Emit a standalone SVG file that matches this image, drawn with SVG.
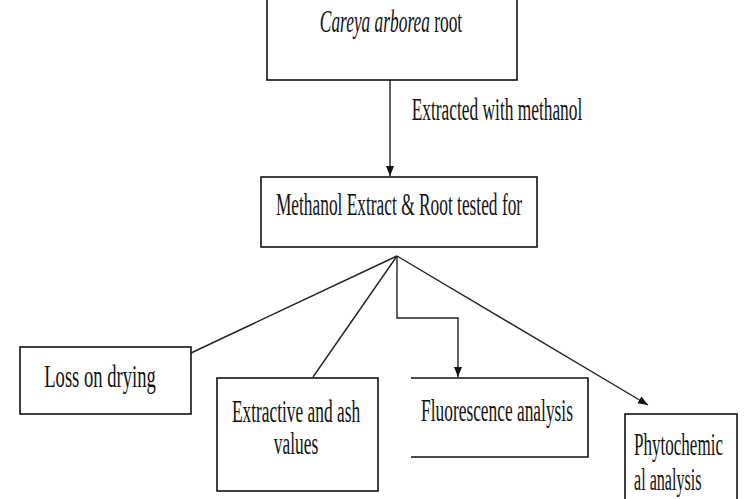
<svg xmlns="http://www.w3.org/2000/svg" width="750" height="499" viewBox="0 0 750 499">
<defs>
<marker id="ah" viewBox="0 0 10 10" refX="10" refY="5" markerWidth="10" markerHeight="10" markerUnits="userSpaceOnUse" orient="auto">
<path d="M0,1 L10,5 L0,9 Z" fill="#111"/>
</marker>
<style>
.box{fill:#fff;stroke:#111;stroke-width:1.6}
.ln{fill:none;stroke:#222;stroke-width:1.4}
text{font-family:"Liberation Serif","Times New Roman",serif;font-size:31px;fill:#111;text-anchor:middle}
.l{text-anchor:start}
</style>
</defs>
<rect width="750" height="499" fill="#fff"/>
<g id="connectors">
<line class="ln" x1="390" y1="80" x2="390" y2="176" marker-end="url(#ah)"/>
<line class="ln" x1="191" y1="353" x2="397" y2="256"/>
<line class="ln" x1="313" y1="377" x2="397" y2="256"/>
<polyline class="ln" points="397,256 397,318 458,318 458,377" marker-end="url(#ah)"/>
<line class="ln" x1="397" y1="256" x2="648" y2="405" marker-end="url(#ah)"/>
<text transform="translate(497,120) scale(0.56,1)">Extracted with methanol</text>
</g>
<g id="root">
<rect class="box" x="267" y="-5" width="250" height="85"/>
<text transform="translate(391,32) scale(0.56,1)"><tspan font-style="italic">Careya arborea</tspan> root</text>
</g>
<g id="methanol">
<rect class="box" x="261" y="177" width="276" height="70"/>
<text transform="translate(399,215) scale(0.56,1)">Methanol Extract &amp; Root tested for</text>
</g>
<g id="loss">
<rect class="box" x="20" y="347" width="171" height="67"/>
<text transform="translate(100,387) scale(0.6,1)">Loss on drying</text>
</g>
<g id="extractive">
<rect class="box" x="217" y="378" width="161" height="113"/>
<text transform="translate(296,422) scale(0.56,1)">Extractive and ash</text>
<text transform="translate(296,454) scale(0.56,1)">values</text>
</g>
<g id="fluorescence">
<path class="box" d="M411,378 H588 V457 H411"/>
<text transform="translate(497,421) scale(0.56,1)">Fluorescence analysis</text>
</g>
<g id="phyto">
<rect class="box" x="625" y="414" width="112" height="95"/>
<text class="l" transform="translate(634,455) scale(0.55,1)">Phytochemic</text>
<text class="l" transform="translate(634,490) scale(0.52,1)">al analysis</text>
</g>
</svg>
